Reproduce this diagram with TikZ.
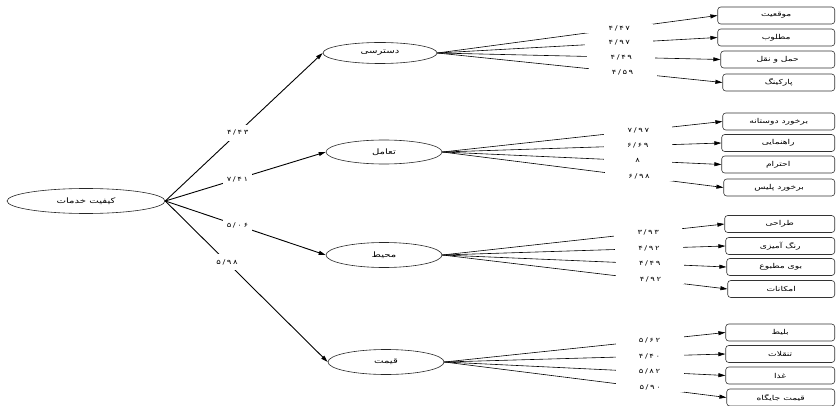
\documentclass[tikz,border=0pt]{standalone}
\usepackage{fontspec}
\usepackage{tikz}
\usetikzlibrary{shapes.geometric,arrows.meta}
\newfontfamily\arabicfont[Script=Arabic,FakeStretch=1.35]{DejaVu Sans}
\newfontfamily\numfont[Script=Arabic,FakeStretch=1.3,LetterSpace=25]{DejaVu Sans}
\TeXXeTstate=1
\tikzstyle{crit}=[ellipse, draw=black!85, line width=0.6pt, inner sep=0pt, minimum width=116pt, minimum height=24pt, font=\arabicfont\fontsize{7.5}{8}\selectfont]
\tikzstyle{ind}=[rectangle, draw=black!80, line width=0.6pt, rounded corners=3pt, inner sep=0pt, minimum height=17pt, anchor=east, font=\arabicfont\fontsize{6.8}{8}\selectfont]
\tikzstyle{rootw}=[fill=white, inner xsep=4pt, inner ysep=0pt, minimum height=16pt, font=\numfont\fontsize{6.5}{7}\selectfont]
\tikzstyle{indw}=[fill=white, inner sep=0pt, minimum width=68pt, minimum height=9pt, font=\numfont\fontsize{6.5}{7}\selectfont]
\tikzstyle{main}=[line width=0.9pt, -{Triangle[length=7pt,width=4pt]}]
\tikzstyle{sub}=[line width=0.6pt, -{Triangle[length=7pt,width=4pt]}]
\newcommand{\crit}{\node[crit]}
\newcommand{\ind}{\node[ind]}
\newcommand{\fa}[1]{\beginR #1\endR}

\begin{document}
\begin{tikzpicture}[x=1pt,y=-1pt]
    \useasboundingbox (0,0) rectangle (837,406);
    % root and criteria
    \crit[minimum width=158pt, minimum height=25pt] (root) at (86,201) {\fa{کیفیت خدمات}};
    \crit[minimum width=114pt, minimum height=21pt] (access) at (380,53) {\fa{دسترسی}};
    \crit (contact) at (384,152) {\fa{تعامل}};
    \crit[minimum height=25pt] (place) at (384,255) {\fa{محیط}};
    \crit[minimum height=25pt] (price) at (386,362) {\fa{قیمت}};
    % indicators, right edges at 835
    \ind[minimum width=117pt] (loc) at (835,15.5) {\fa{موقعیت}};
    \ind[minimum width=117pt] (good) at (835,37.5) {\fa{مطلوب}};
    \ind[minimum width=114pt] (trans) at (835,59.5) {\fa{حمل و نقل}};
    \ind[minimum width=112pt] (park) at (835,82.5) {\fa{پارکینگ}};
    \ind[minimum width=112pt] (friend) at (835,121.5) {\fa{برخورد دوستانه}};
    \ind[minimum width=113pt] (guide) at (835,143) {\fa{راهنمایی}};
    \ind[minimum width=113pt] (respect) at (835,164.5) {\fa{احترام}};
    \ind[minimum width=111pt] (police) at (835,187.5) {\fa{برخورد پلیس}};
    \ind[minimum width=110pt] (design) at (835,224) {\fa{طراحی}};
    \ind[minimum width=109pt] (paint) at (835,246) {\fa{رنگ آمیزی}};
    \ind[minimum width=108pt] (smell) at (835,267) {\fa{بوی مطبوع}};
    \ind[minimum width=107pt] (facil) at (835,289) {\fa{امکانات}};
    \ind[minimum width=109pt] (ticket) at (835,332.5) {\fa{بلیط}};
    \ind[minimum width=109pt] (snack) at (835,354) {\fa{تنقلات}};
    \ind[minimum width=109pt] (food) at (835,375.5) {\fa{غذا}};
    \ind[minimum width=108pt] (seat) at (835,397.5) {\fa{قیمت جایگاه}};
    % root edges
    \draw[main] (root.east) -- node[rootw, pos=0.46] {۴/۴۳} (access.west);
    \draw[main] (root.east) -- node[rootw, pos=0.45] {۷/۴۱} (contact.west);
    \draw[main] (root.east) -- node[rootw, pos=0.45] {۵/۰۶} (place.west);
    \draw[main] (root.east) -- node[rootw, pos=0.38] {۵/۹۸} (price.west);
    % indicator edges
    \path[sub]
    (access.east) edge node[indw, pos=0.65] {۴/۴۷} (loc.west)
    (access.east) edge node[indw, pos=0.65] {۴/۹۷} (good.west)
    (access.east) edge node[indw, pos=0.65] {۴/۴۹} (trans.west)
    (access.east) edge node[indw, pos=0.65] {۴/۵۹} (park.west)
    (contact.east) edge node[indw, pos=0.70] {۷/۹۷} (friend.west)
    (contact.east) edge node[indw, pos=0.70] {۶/۶۹} (guide.west)
    (contact.east) edge node[indw, pos=0.70] {۸} (respect.west)
    (contact.east) edge node[indw, pos=0.70] {۶/۹۸} (police.west)
    (place.east) edge node[indw, pos=0.73] {۳/۹۳} (design.west)
    (place.east) edge node[indw, pos=0.73] {۴/۹۲} (paint.west)
    (place.east) edge node[indw, pos=0.73] {۴/۴۹} (smell.west)
    (place.east) edge node[indw, pos=0.73] {۴/۹۲} (facil.west)
    (price.east) edge node[indw, pos=0.73] {۵/۶۲} (ticket.west)
    (price.east) edge node[indw, pos=0.73] {۴/۴۰} (snack.west)
    (price.east) edge node[indw, pos=0.73] {۵/۸۲} (food.west)
    (price.east) edge node[indw, pos=0.73] {۵/۹۰} (seat.west);
\end{tikzpicture}
\end{document}
